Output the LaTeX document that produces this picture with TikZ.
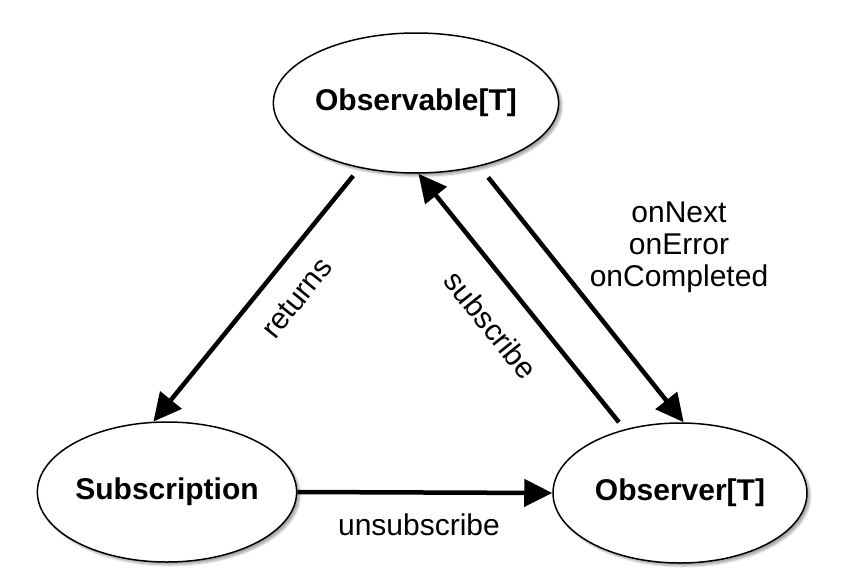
\documentclass[tikz,border=0pt]{standalone}
\usepackage{fontspec}
\setmainfont{Liberation Sans}
\usetikzlibrary{shapes.geometric,arrows.meta,shadows.blur}

\begin{document}
\begin{tikzpicture}[x=1pt, y=-1pt,
		state/.style={ellipse, draw=black, line width=1.5pt, fill=white, minimum width=254pt, minimum height=140pt, inner sep=0pt, font=\fontsize{30}{34}\selectfont\bfseries, blur shadow={shadow xshift=3pt, shadow yshift=-3pt, shadow blur steps=6, shadow opacity=35}},
		flow/.style={black, line width=4.5pt, -{Triangle[length=28pt, width=27pt]}},
		txt/.style={black, font=\fontsize{30}{32}\selectfont}]
		\useasboundingbox (0,0) rectangle (852,573);

		\node[state] (obs) at (416,103) {Observable[T]};
		\node[state] (sub) at (167,492) {Subscription};
		\node[state] (obr) at (680,493) {Observer[T]};

		\draw[flow, shorten <=10pt] (obs.-131.6) -- (sub.101.3);
		\draw[flow, shorten <=9pt] (obr.131.6) -- (obs.-88.4);
		\draw[flow, shorten <=14pt] (obs.-45.3) -- (obr.87.5);
		\draw[flow] (sub.east) -- (obr.west);

		\node[txt, rotate=51] (ret) at (297,298) {returns};
		\node[txt, rotate=-51.4] (subs) at (491,325) {subscribe};
		\node[txt, align=center] (calls) at (679,247) {onNext\\onError\\onCompleted};
		\node[txt] (unsub) at (419,525) {unsubscribe};
	\end{tikzpicture}
\end{document}
